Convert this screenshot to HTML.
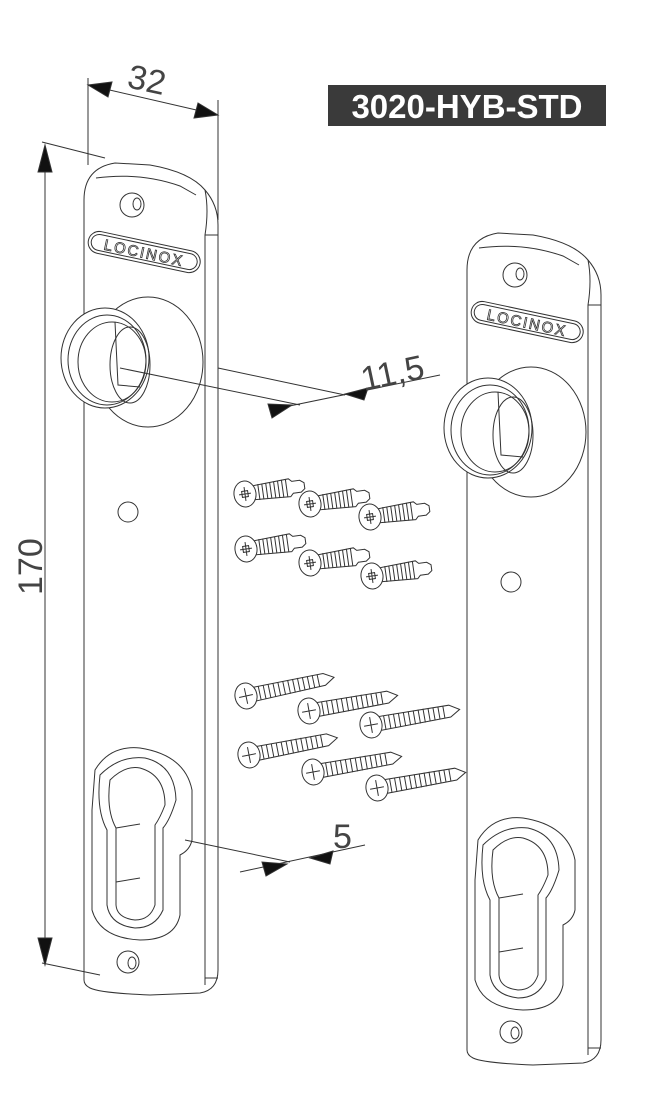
<!DOCTYPE html>
<html><head><meta charset="utf-8"><style>
html,body{margin:0;padding:0;background:#fff}
svg{display:block}
</style></head><body>
<svg width="649" height="1106" viewBox="0 0 649 1106" xmlns="http://www.w3.org/2000/svg">
<defs>
<g id="shortscrew" fill="#fff" stroke="#333" stroke-width="1">
  <path d="M8,-7 L45,-9 L48,-6 L56,-6 L60,-3 L60,3 L56,6 L48,6 L45,9 L8,7 Z"/>
  <path d="M14,-8 v16 M18,-8 v16 M22,-8 v16 M26,-8 v16 M30,-8.5 v17 M34,-8.5 v17 M38,-9 v18 M42,-9 v18" fill="none"/>
  <ellipse cx="0" cy="0" rx="11" ry="13"/>
  <path d="M-6,0 h12 M0,-7 v14 M-3,-3 h6 v6 h-6 z" fill="none"/>
</g>
<g id="longscrew" fill="#fff" stroke="#333" stroke-width="1">
  <path d="M8,-7 L80,-6 L90,0 L80,6 L8,7 Z"/>
  <path d="M14,-7 v14 M19,-7 v14 M24,-7 v14 M29,-7 v14 M34,-7 v14 M39,-7 v14 M44,-7 v14 M49,-7 v14 M54,-7 v14 M59,-6.5 v13 M64,-6.5 v13 M69,-6.5 v13 M74,-6 v12" fill="none"/>
  <ellipse cx="0" cy="0" rx="11" ry="13"/>
  <path d="M-7,0 h14 M0,-8 v16" fill="none"/>
</g>
<g id="plate" fill="none" stroke="#333" stroke-width="1">
  <path d="M84,980 L84,200 Q84,168 115,163 L150,165 Q190,172 205,190 Q218,205 218,225 L218,970 Q218,990 200,993 L150,995 Q100,993 90,988 Q84,985 84,980 Z" fill="#fff"/>
  <path d="M205,190 Q209,210 205,235 L205,985 M205,235 L218,235 M205,978 L218,978"/>
  <path d="M96,178 Q140,172 180,186 L196,195"/>
  <circle cx="132" cy="205" r="12"/>
  <ellipse cx="137" cy="204" rx="4" ry="6"/>
  <g transform="translate(144,253) rotate(12)">
    <rect x="-57" y="-12" width="114" height="22" rx="11"/>
    <rect x="-54" y="-9" width="108" height="16" rx="8"/>
    <text x="0" y="5" text-anchor="middle" font-family="Liberation Sans, sans-serif" font-size="15" letter-spacing="2" fill="#fff" stroke="#333" stroke-width="0.8">LOCINOX</text>
  </g>
  <ellipse cx="148" cy="362" rx="55" ry="65" fill="#fff"/>
  <ellipse cx="105" cy="358" rx="44" ry="50" fill="#fff"/>
  <ellipse cx="107" cy="360" rx="39" ry="45"/>
  <ellipse cx="112" cy="362" rx="34" ry="40"/>
  <path d="M115,322 L118,385 L140,387"/>
  <ellipse cx="130" cy="365" rx="20" ry="38"/>
  <circle cx="128" cy="512" r="10"/>
  <path d="M95,770 Q110,745 140,748 Q185,755 192,790 L192,840 Q190,850 180,855 L180,915 Q175,940 140,940 Q100,938 92,910 L92,810 Z"/>
  <path d="M100,775 Q120,755 145,758 Q175,765 176,800 Q170,820 163,828 L163,910 Q155,928 135,928 Q110,925 107,905 L107,830 Q96,810 100,775 Z"/>
  <path d="M110,780 Q125,765 140,768 Q165,775 165,805 Q160,818 155,825 L155,905 Q150,920 135,920 Q117,918 116,905 L116,828 Q106,810 110,780 Z"/>
  <path d="M116,828 L140,824 M116,882 L140,878"/>
  <circle cx="128" cy="962" r="11"/>
  <ellipse cx="132" cy="963" rx="4" ry="6"/>
</g>
</defs>

<use href="#plate"/>
<use href="#plate" transform="translate(383,70)"/>

<g stroke="#333" stroke-width="1" fill="#111">
  <line x1="88" y1="78" x2="88" y2="165"/>
  <line x1="218" y1="100" x2="218" y2="220"/>
  <line x1="88" y1="85" x2="218" y2="115"/>
  <path d="M88,85 L112,82 L108,97 Z"/>
  <path d="M218,115 L194,118 L198,103 Z"/>
  <line x1="45" y1="145" x2="45" y2="965"/>
  <line x1="42" y1="142" x2="105" y2="158"/>
  <line x1="42" y1="963" x2="100" y2="975"/>
  <path d="M45,145 L38,172 L52,172 Z"/>
  <path d="M45,965 L38,938 L52,938 Z"/>
  <line x1="218" y1="368" x2="345" y2="395"/>
  <line x1="120" y1="368" x2="300" y2="405"/>
  <line x1="270" y1="410" x2="440" y2="375"/>
  <path d="M292,405 L268,404 L272,418 Z"/>
  <path d="M345,394 L368,388 L364,400 Z"/>
  <line x1="185" y1="840" x2="290" y2="862"/>
  <line x1="240" y1="872" x2="365" y2="845"/>
  <path d="M287,864 L262,862 L266,876 Z"/>
  <path d="M310,858 L333,851 L330,864 Z"/>
</g>
<g font-family="Liberation Sans, sans-serif" fill="#444" font-size="34">
  <text x="128" y="92" transform="rotate(12 150 80)">32</text>
  <text x="42" y="595" transform="rotate(-90 42 595)">170</text>
  <text x="360" y="385" transform="rotate(-12 390 370)">11,5</text>
  <text x="333" y="848">5</text>
</g>

<rect x="328" y="85" width="278" height="41" fill="#3a3a3a"/>
<text x="467" y="118" text-anchor="middle" font-family="Liberation Sans, sans-serif" font-weight="bold" font-size="33" fill="#fff">3020-HYB-STD</text>

<use href="#shortscrew" transform="translate(245,494) rotate(-8)"/>
<use href="#shortscrew" transform="translate(310,504) rotate(-8)"/>
<use href="#shortscrew" transform="translate(370,517) rotate(-8)"/>
<use href="#shortscrew" transform="translate(246,549) rotate(-8)"/>
<use href="#shortscrew" transform="translate(310,563) rotate(-8)"/>
<use href="#shortscrew" transform="translate(372,576) rotate(-8)"/>
<use href="#longscrew" transform="translate(246,696) rotate(-12)"/>
<use href="#longscrew" transform="translate(309,711) rotate(-10)"/>
<use href="#longscrew" transform="translate(371,725) rotate(-10)"/>
<use href="#longscrew" transform="translate(249,755) rotate(-11)"/>
<use href="#longscrew" transform="translate(313,772) rotate(-10)"/>
<use href="#longscrew" transform="translate(377,788) rotate(-10)"/>
</svg>
</body></html>
